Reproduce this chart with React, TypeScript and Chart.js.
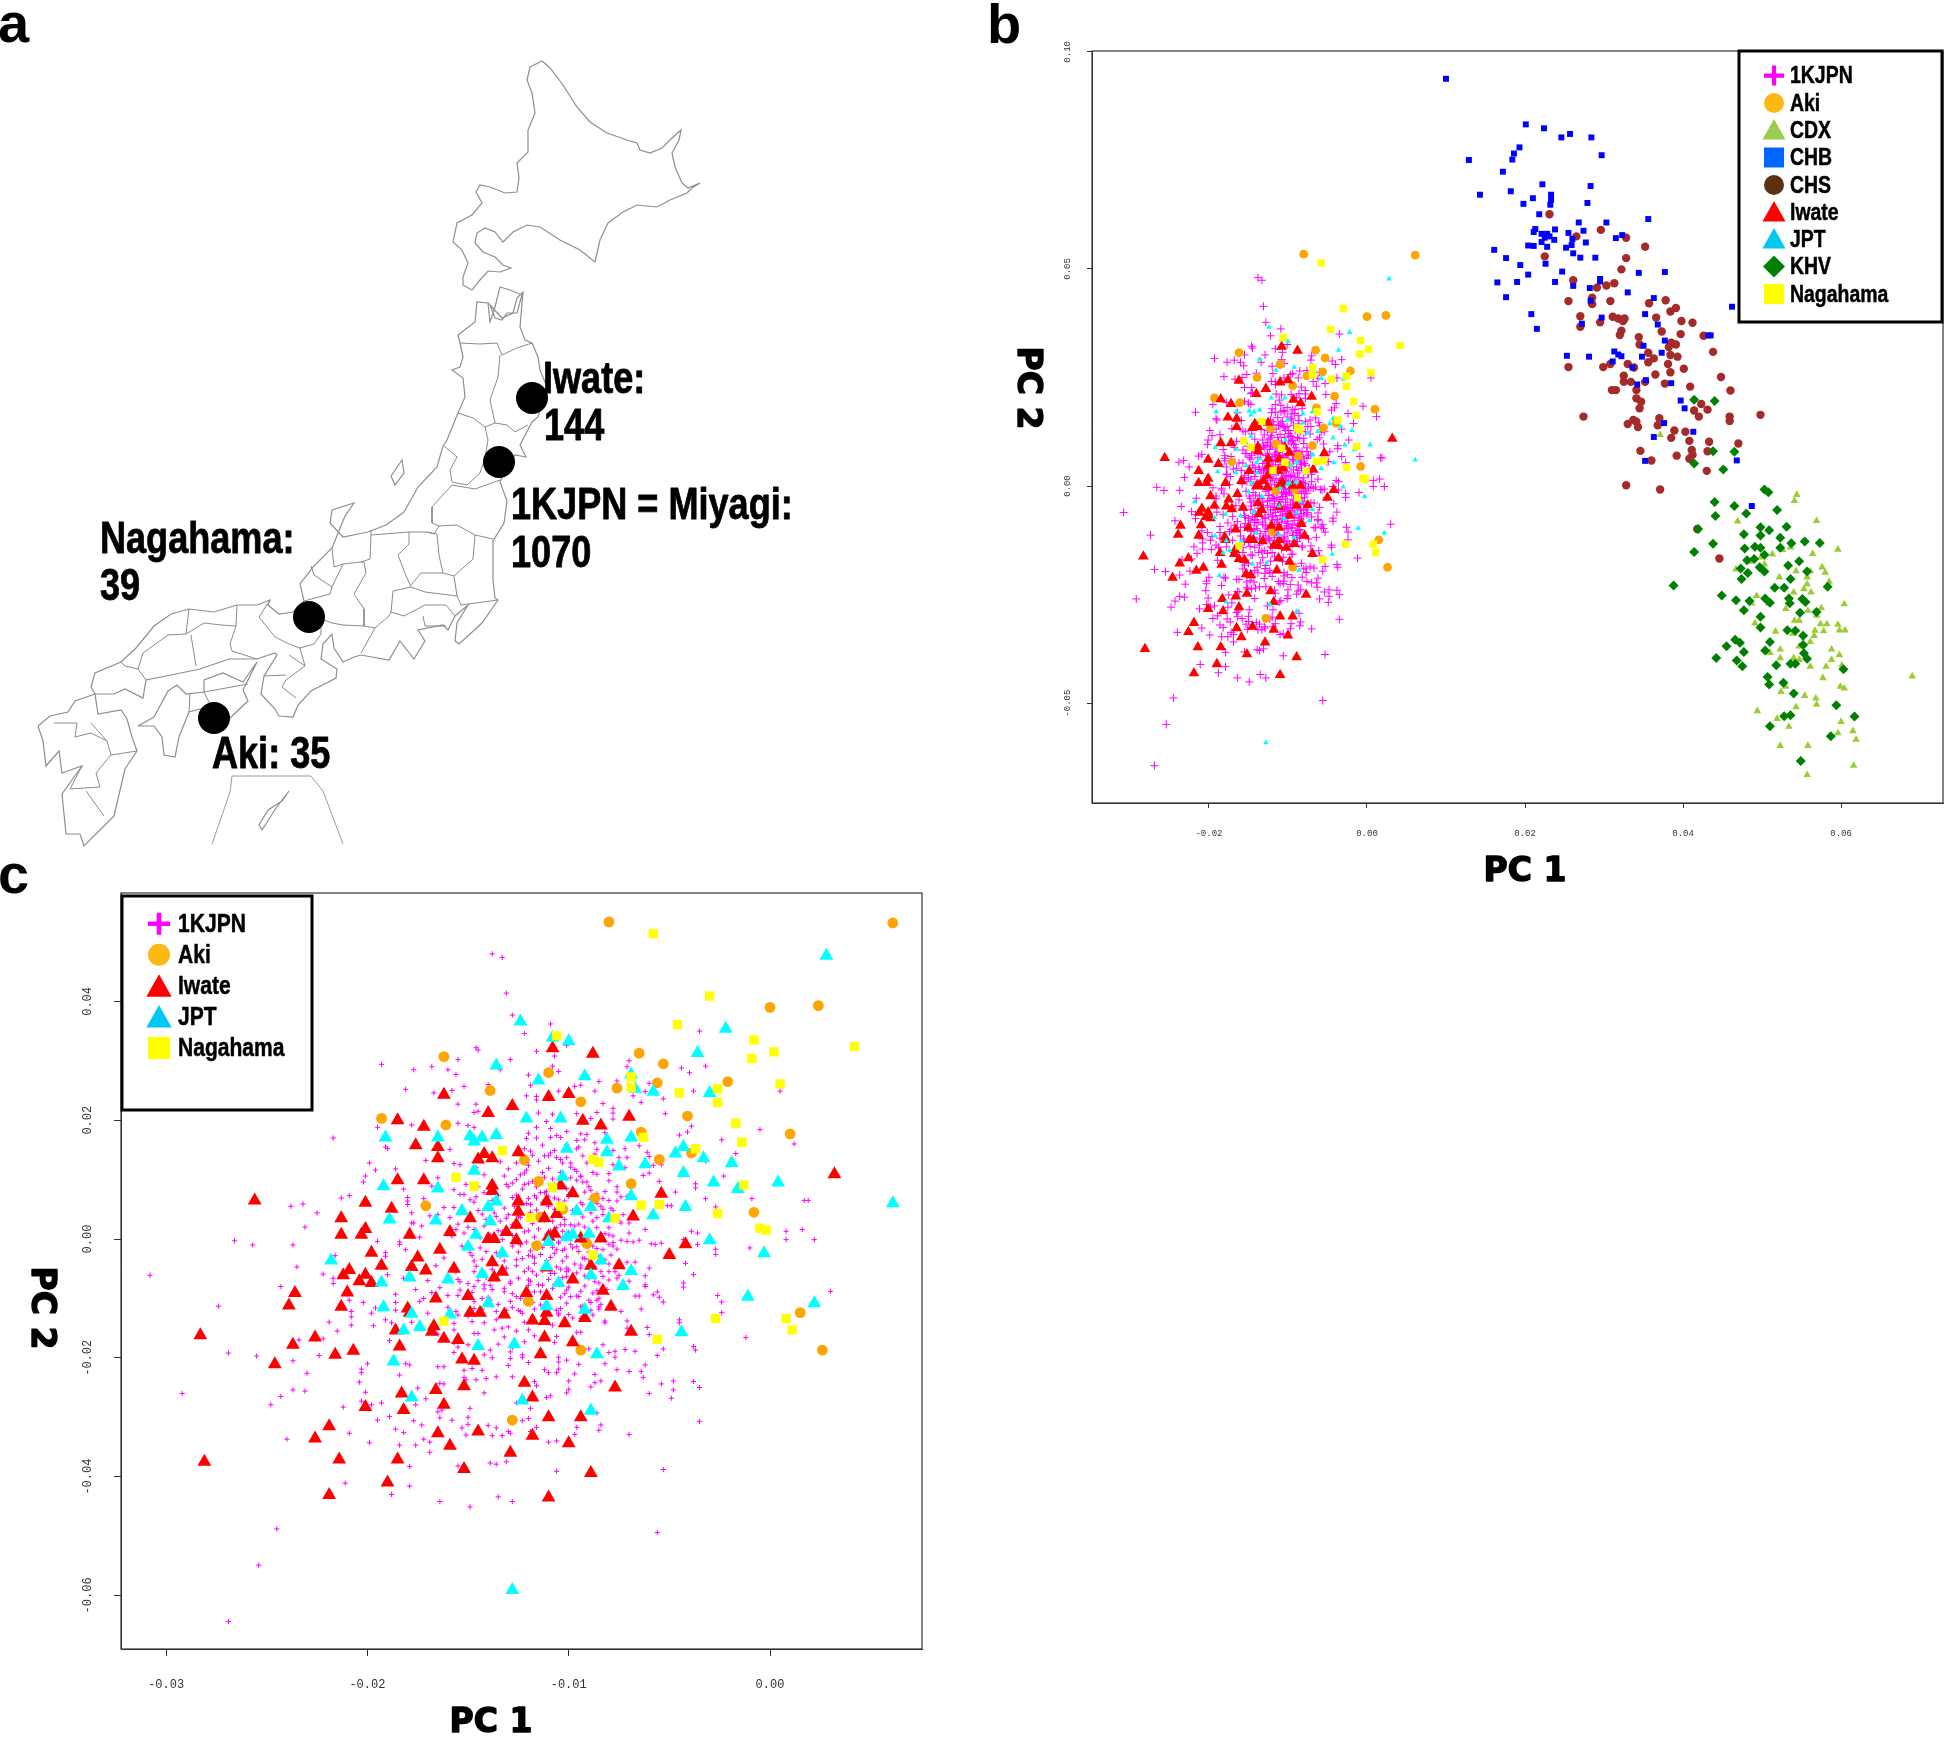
import React, { useEffect, useRef } from "react";
import { Chart, registerables } from "chart.js";
Chart.register(...registerables);

// ---- PCA values: flat x,y pairs, both in units of 0.0001 of PC 1 / PC 2 ----
const AKI = [-162,307,-139,250,-193,203,-161,192,-171,56,-80,534,61,532,0,390,24,393,-65,313,-53,295,-110,280,-76,254,-56,263,-21,265,-94,231,-41,207,-64,180,10,177,-39,145,-55,134,-122,133,-115,97,-69,93,-87,69,-103,50,-114,37,-8,45,-91,-8,-116,-11,-120,-105,15,-124,-94,-187,26,-187,-128,-305];
const IWATE = [-256,65,-213,35,-201,61,-188,51,-213,7,-201,17,-203,7,-179,7,-198,-23,-193,-45,-209,-52,-212,-61,-201,-60,-204,-71,-198,-74,-210,-90,-213,-114,-236,-91,-239,-112,-178,-47,-175,-31,-171,-53,-164,-18,-159,12,-157,-50,-149,35,-140,0,-137,0,-131,12,-125,63,-125,46,-126,24,-126,-2,-138,-39,-133,-55,-137,-65,-166,-100,-150,-96,-180,-117,-186,-154,-179,-124,-167,-147,-168,-156,-162,-168,-155,-170,-184,-181,-149,-124,-144,-124,-132,-127,-121,-91,-111,-96,-111,-124,-118,-137,-112,-138,-112,-166,-114,-194,-153,-203,-147,-205,-102,-142,-98,-174,-92,-133,-83,-87,-79,-114,-69,-156,-77,-250,-75,-44,-89,-45,-98,-68,-111,-48,-84,1,-94,1,-68,38,-50,-27,-42,-9,-54,76,32,109,-98,77,-104,90,-111,63,-106,42,-112,35,-107,9,-110,4,-138,90,-138,81,-172,99,-185,99,-165,136,-165,155,-176,158,-172,189,-185,200,-162,243,-140,212,-128,224,-145,134,-142,143,-138,136,-125,146,-110,239,-100,244,-93,199,-84,191,-70,206,-108,321,-88,312,-122,-242,-118,-267,-152,-248,-166,-254,-183,-260,-201,-283,-182,-288,-162,-279,-219,-315,-226,-336,-214,-371,-281,-375,-283,-162,-246,-211,-237,-178,-226,-166,-216,-195,-207,-188,-165,-327,-159,-348,-185,-371,-190,-410,-219,-431,-152,-387,-145,-324,-129,-360,-118,-331,-110,-300,-94,-300,-100,-344,-89,-394,-110,-435];
const JPT = [-124,366,-108,339,-100,333,-136,292,-115,267,28,477,-22,354,-36,313,-69,277,-67,253,-58,248,-92,274,-30,246,-121,203,-104,203,-191,171,-165,171,-149,173,-147,164,-143,171,-136,175,-101,152,-81,167,-81,146,-69,171,-43,155,-47,144,-33,136,-19,128,-43,111,-28,95,-16,84,4,95,-42,54,61,60,-30,-2,-3,-24,-75,122,-62,126,-103,105,-147,115,-192,89,-165,85,-189,33,-166,31,-153,47,-140,54,-139,30,-136,63,-146,7,-150,-13,-133,-24,-110,-5,-101,3,-98,7,-90,9,-96,47,-89,54,-69,72,-58,40,-80,35,-84,-36,-89,-61,-69,-54,-73,-79,-105,-74,-111,-46,-143,-59,-160,-68,-179,-65,-193,-73,-218,-36,-192,-115,-178,-126,-174,-148,-182,-154,-159,-127,-140,-108,-111,-113,-92,-119,-11,-97,22,-108,-44,-157,-127,-177,-145,-180,-86,-194,-187,-206,-178,-267,-123,-272,-89,-289,-128,-591];
const NAGAHAMA = [-58,514,-30,409,-46,361,-8,335,2,315,-9,304,42,324,-106,342,-69,273,-69,255,-45,246,-26,253,-26,230,5,261,-17,195,-14,163,-63,171,-37,152,-88,134,-85,129,-108,87,-13,91,-64,57,-55,58,-104,55,-119,36,-77,35,-26,43,-5,18,-2,15,-88,-27,-133,149,-156,104,-147,89,-162,-138,-27,-134,8,-134,11,-153,-56,-169];
const KJPN = [-138,480,-133,474,-131,414,-128,377,-146,322,-145,318,-155,302,-129,302,-193,294,-177,285,-168,290,-160,285,-156,277,-134,285,-152,257,-140,260,-181,252,-167,246,-158,250,-155,227,-146,227,-145,215,-147,213,-155,195,-150,191,-147,188,-178,192,-195,188,-217,170,-191,155,-190,152,-164,169,-171,132,-159,151,-157,127,-154,125,-199,128,-196,116,-186,118,-201,106,-202,96,-165,103,-182,84,-168,89,-157,83,-154,75,-151,92,-132,106,-131,92,-213,69,-209,73,-180,70,-180,64,-180,58,-172,68,-162,53,-157,53,-152,75,-149,66,-146,71,-232,59,-238,55,-225,44,-231,20,-266,-3,-257,-10,-237,-10,-178,44,-178,27,-169,39,-165,41,-159,36,-155,25,-156,16,-177,27,-173,22,-184,-5,-184,-9,-174,3,-195,-4,-181,-18,-191,-23,-191,-29,-153,-12,-149,-23,-144,-15,-235,-47,-216,-28,-162,-32,-157,-46,-147,-37,-166,-45,-171,-46,-136,-23,
-109,362,-122,346,-101,326,-116,316,-107,308,-70,300,-71,290,-108,291,-105,282,-120,276,-119,259,-44,288,-40,280,-32,291,-35,350,-94,259,-97,257,-85,265,-76,266,-60,262,-62,248,-87,249,-105,249,-38,249,5,249,-121,241,-116,240,-116,234,-68,241,-53,236,-64,230,-83,228,-78,220,-78,212,-78,202,-52,211,-86,213,-96,211,-108,210,-115,212,-111,198,-89,203,-39,190,-41,180,-45,175,-5,184,-24,167,12,160,-17,144,-116,188,-120,178,-116,170,-121,169,-109,186,-109,171,-106,174,-104,171,-101,181,-94,177,-91,176,-96,166,-95,155,-92,167,-87,162,-86,151,-82,179,-78,149,-72,152,-61,146,-60,139,-65,157,-112,140,-109,145,-106,137,-104,134,-99,128,-101,159,-97,117,-96,114,-94,105,-93,96,-91,96,-86,109,-80,110,-75,137,-71,137,-72,120,-78,125,-58,124,-54,125,-63,107,-60,111,-55,97,-32,131,-23,106,-47,79,-37,93,-37,86,-9,68,17,65,19,65,-32,68,-51,56,-49,56,-27,54,-114,78,-112,78,-107,69,-100,75,-120,94,-122,111,-116,69,-119,58,-89,82,-82,80,-76,79,-74,71,-71,72,-80,65,-76,64,-93,58,-89,44,-83,50,-78,48,-73,41,-70,27,-74,27,-70,10,-62,16,-59,-8,-57,-9,-54,-7,-71,-4,-68,-5,-65,-2,-39,13,-36,10,-43,-1,-36,-9,8,13,16,16,8,-1,22,-1,-10,-15,-27,-17,-27,-26,-51,-26,-42,-41,-104,24,-102,24,-99,24,-97,22,-103,13,-105,-7,-86,19,-80,7,-78,5,-80,-9,-78,-12,-98,-15,-103,-19,-106,-18,-93,-32,-85,-29,-71,-39,-67,-39,-60,-49,-82,-35,-94,-49,-101,-49,-104,-51,-117,-32,-118,-29,
-308,-61,-243,-80,-274,-113,-222,-59,-217,-75,-217,-66,-186,-93,-186,-107,-186,-120,-209,-103,-202,-107,-196,-116,-208,-122,-208,-131,-208,-145,-198,-125,-197,-146,-219,-140,-215,-155,-191,-136,-188,-141,-189,-171,-234,-170,-222,-168,-269,-192,-255,-197,-237,-205,-224,-196,-230,-226,-200,-210,-203,-219,-203,-225,-204,-241,-181,-210,-179,-212,-184,-229,-292,-260,-237,-254,-231,-256,-243,-265,-248,-279,-201,-258,-203,-273,-198,-279,-193,-276,-212,-283,-189,-299,-195,-305,-186,-320,-182,-326,-177,-306,-175,-251,-176,-279,-171,-269,-173,-313,-240,-337,-209,-327,-199,-343,-184,-347,-176,-347,-172,-337,-169,-342,-169,-359,-179,-383,-179,-416,-211,-411,-188,-430,-164,-442,-149,-451,-135,-434,-128,-442,-155,-382,-139,-377,-136,-379,-131,-375,-245,-488,-254,-549,-269,-644,-165,-215,-162,-215,-163,-288,-165,-291,-164,-301,-158,-305,-149,-285,-150,-300,-150,-312,-153,-318,-151,-330,-140,-314,-136,-318,-138,-331,-133,-331,-130,-324,-129,-327,-152,-233,-151,-237,-146,-237,-141,-235,-136,-232,-130,-213,-128,-232,-143,-221,-148,-218,-152,-221,-142,-259,-126,-276,-129,-190,-129,-201,-135,-177,-139,-187,-142,-195,-157,-191,-155,-182,-150,-178,-147,-159,-145,-159,-148,-139,-142,-141,-137,-153,-164,-243,-162,-244,-154,-72,-147,-80,-142,-77,-138,-85,-143,-100,-139,-103,-151,-97,-154,-86,-129,-75,-132,-89,-126,-97,-131,-120,-125,-120,-136,-136,-133,-150,-130,-148,-156,-122,-155,-128,-147,-117,-157,-142,-157,-153,
-38,-60,-43,-74,-43,-81,-62,-62,-62,-77,-62,-80,-70,-71,-67,-96,-65,-96,-58,-94,-56,-89,-55,-98,-53,-106,-26,-95,-24,-106,-24,-124,30,-88,-64,-118,-74,-122,-45,-136,-45,-141,-82,-138,-71,-138,-71,-150,-61,-149,-60,-161,-12,-166,-83,-178,-53,-185,-56,-196,-38,-181,-37,-187,-80,-191,-77,-189,-77,-199,-72,-186,-67,-189,-82,-210,-62,-212,-76,-220,-70,-223,-64,-223,-63,-233,-54,-244,-48,-239,-48,-254,-49,-268,-38,-240,-35,-250,-60,-260,-35,-307,-70,-329,-53,-388,-106,-391,-56,-494,-84,-313,-85,-322,-97,-329,-96,-317,-110,-342,-106,-340,-119,-324,-116,-317,-119,-285,-120,-302,-123,-306,-86,-293,-89,-249,-87,-242,-84,-239,-87,-228,-97,-227,-100,-239,-100,-253,-101,-259,-109,-264,-111,-267,-117,-240,-116,-247,-112,-220,-110,-225,-106,-225,-105,-219,-95,-211,-101,-204,-105,-207,-105,-199,-120,-208,-123,-195,-123,-199,-122,-173,-117,-163,-107,-174,-106,-164,-120,-153,-94,-157,-96,-157,-90,-185,-98,-133,-102,-142,-108,-145,-122,-140,-89,-107,-86,-103,-89,-120,-85,-100,-94,-114,-93,-113,-85,-114,-85,-118,-101,-108,-104,-117,-105,-128,-105,-125,-99,-97,-95,-97,-104,-98,-86,-87,-101,-86,-80,-69,-75,-61,-76,-66,-103,-65,-92,-62,-115,-77,-120,-69,-117,-89,-80,-55,-84,-55,-101,-55,-118,-55,-109,-58,-124,-122,-123,-125,-117,-118,-114,-111,
-136,38,-130,41,-125,38,-134,30,-128,24,-142,22,-152,10,-147,16,-133,-1,-128,-12,-141,-21,-134,-29,-146,-46,-126,-35,-131,-49,-138,-51,
-122,152,-118,141,-113,158,-107,149,-101,137,-96,152,-91,128,-87,143,-120,124,-115,131,-110,119,-104,112,-99,121,-94,106,-124,108,-118,97,-112,104,-107,92,-101,85,-96,99,-90,88,-86,76,-123,84,-117,73,-111,80,-105,66,-100,72,-94,61,-89,67,-84,55,-121,60,-116,49,-110,55,-104,42,-98,48,-93,37,-88,30,-83,41,-124,36,-118,26,-112,32,-106,19,-100,11,-95,25,-90,14,-85,3,-80,19,-122,12,-117,3,-111,8,-105,-5,-99,-9,-94,-2,-88,-12,-83,-18,-78,-6,-124,-10,-119,-20,-113,-14,-107,-24,-101,-30,-95,-21,-90,-34,-85,-40,-79,-27,-123,-33,-117,-41,-111,-36,-106,-47,-100,-52,-94,-44,-89,-57,-83,-63,-122,-55,-116,-61,-110,-68,-104,-74,-98,-66,-92,-79,-87,-72,-81,-85,-120,-78,-114,-89,-108,-83,-102,-92,-96,-96,-90,-103,-84,-110,-124,-100,-118,-107,-112,-113,-106,-120,-100,-127,-94,-134,-88,-128,-82,-141,-146,120,-142,108,-138,96,-134,130,-130,118,-126,100,-142,78,-138,65,-132,52,-128,70,-145,48,-141,33,-135,14,-128,6,-150,20,-158,5,-147,-55,-141,-65,-135,-60,-129,-72,-155,-68,-148,-90,-142,-84,-135,-110,-129,-105,-164,-82,-170,-70,-176,-85,-182,-66,-190,-60,-172,-100,-160,-115,-150,-130,-143,-118,-132,-165,-126,-155,-138,-200,-128,-183,-170,-125,-178,-140,-165,-160,-157,-175,-152,-200,-146,-208,
-119,148,-110,140,-103,128,-93,140,-84,126,-126,128,-121,116,-113,112,-108,101,-99,103,-88,112,-80,98,-128,94,-122,92,-116,88,-110,71,-102,64,-92,79,-83,68,-76,88,-126,74,-120,68,-113,62,-107,50,-96,45,-86,60,-79,52,-127,55,-119,45,-113,41,-108,30,-102,33,-92,20,-86,36,-75,30,-126,20,-120,14,-115,17,-109,14,-103,2,-97,6,-91,1,-82,9,-74,-2,-127,-1,-121,-5,-115,-7,-108,-14,-102,-17,-96,-13,-90,-22,-86,-16,-76,-17,-125,-22,-120,-28,-114,-26,-109,-31,-103,-37,-97,-42,-92,-33,-87,-46,-80,-42,-126,-45,-120,-49,-113,-53,-107,-58,-101,-63,-96,-57,-90,-66,-85,-74,-77,-55,-125,-66,-119,-71,-113,-78,-107,-76,-100,-81,-94,-88,-88,-91,-145,88,-139,84,-135,73,-130,88,-147,62,-143,42,-137,44,-131,35,-144,2,-139,7,-133,12,-148,-28,-143,-34,-137,-41,-132,-37,-150,-75,-145,-70,-139,-78,-132,-83,-128,-92,-155,-95,-147,-105,-140,-98,-136,-122,-128,-115,-160,-95,-168,-90,-174,-105,-156,-55];
const CHB = [100,938,201,833,224,824,246,803,257,811,284,803,193,780,186,766,184,752,297,762,129,751,172,724,222,695,283,691,143,671,182,679,210,663,233,671,233,659,232,648,198,650,279,652,218,626,356,615,268,607,303,607,213,592,211,585,238,591,274,588,255,583,221,581,228,581,225,572,221,562,231,575,237,567,260,569,259,555,277,561,323,578,315,571,204,554,211,553,228,551,252,549,261,536,270,526,289,526,161,544,176,525,194,509,226,512,204,487,247,494,165,469,190,470,238,470,295,477,295,471,344,491,377,493,261,461,282,456,330,446,176,435,283,427,363,433,462,413,352,396,208,396,297,388,272,374,368,372,215,362,377,335,432,347,435,347,350,323,373,307,313,310,318,303,322,299,253,300,281,298,348,298,311,287,336,273,353,244,385,237,342,234,397,197,402,179,376,145,413,125,363,113,468,59,352,58,487,-46];
const CHS = [231,626,296,590,265,575,328,572,352,551,225,529,328,525,322,499,261,474,313,467,303,462,291,457,255,426,308,426,285,434,285,419,378,428,357,421,391,410,384,402,270,391,311,390,318,386,326,386,324,380,366,388,398,380,412,376,295,377,270,367,322,358,373,356,320,348,397,350,426,346,344,343,345,326,385,330,391,326,382,320,438,309,356,307,384,302,363,294,356,285,393,298,381,281,330,281,255,274,299,274,308,281,338,273,401,270,384,262,365,257,325,254,325,240,334,240,448,251,352,240,377,236,409,229,310,221,315,221,341,221,460,220,341,202,347,194,423,189,414,174,431,176,345,179,420,160,459,160,459,150,498,164,274,160,370,156,337,152,330,143,341,148,343,136,368,140,389,128,403,125,385,111,408,104,433,102,470,98,411,83,412,72,431,80,346,81,392,70,408,63,360,59,430,35,328,2,371,-8,418,-99,446,-167];
const KHV = [414,199,440,196,438,80,465,79,414,52,451,38,503,-8,508,-14,440,-37,465,-46,441,-69,480,-63,519,-55,419,-99,498,-95,509,-102,531,-94,477,-111,498,-114,523,-119,438,-133,414,-152,478,-144,491,-140,498,-142,537,-132,554,-128,573,-131,523,-142,503,-158,481,-171,490,-168,547,-173,533,-183,473,-190,497,-187,503,-197,482,-200,474,-214,557,-197,536,-214,583,-232,516,-234,528,-234,388,-229,449,-252,467,-263,484,-265,504,-259,510,-269,534,-259,535,-270,551,-260,555,-267,477,-286,498,-301,548,-292,569,-290,498,-326,532,-332,542,-333,552,-345,466,-354,472,-361,510,-359,455,-369,477,-382,504,-379,552,-366,553,-385,557,-398,442,-396,468,-402,475,-415,518,-413,536,-409,542,-409,603,-422,507,-440,509,-457,527,-453,540,-478,594,-505,528,-530,536,-528,617,-531,510,-553,587,-576,549,-633];
const CDX = [544,-20,541,-34,469,-81,569,-80,596,-146,513,-157,526,-147,536,-141,564,-156,499,-164,484,-174,503,-180,467,-192,576,-187,580,-199,543,-196,561,-196,522,-210,557,-210,585,-220,557,-226,553,-237,540,-245,562,-245,493,-253,604,-272,487,-270,508,-270,530,-283,558,-287,575,-281,569,-298,491,-316,541,-310,547,-310,574,-318,582,-318,596,-319,598,-332,605,-332,578,-334,517,-335,539,-340,567,-333,566,-345,561,-359,547,-369,552,-363,523,-376,510,-384,588,-376,598,-389,523,-396,588,-400,540,-396,547,-400,561,-416,581,-416,601,-413,690,-438,577,-442,599,-462,604,-466,530,-462,524,-474,554,-483,568,-489,569,-503,543,-509,494,-518,519,-536,600,-543,534,-554,615,-564,596,-569,619,-584,523,-598,558,-598,616,-644,557,-665,371,118];

const TICKS_B_X = [-0.02, 0, 0.02, 0.04, 0.06];
const TICKS_B_Y = [-0.05, 0, 0.05, 0.1];
const TICKS_C_X = [-0.03, -0.02, -0.01, 0];
const TICKS_C_Y = [-0.06, -0.04, -0.02, 0, 0.02, 0.04];

// ---- Map outlines: flat x,y pairs in the map's own units ----
const HOKKAIDO = [530,67,542,61,550,68,563,85,577,107,590,122,607,133,627,140,637,143,640,150,650,153,662,148,672,138,681,130,679,140,672,153,675,167,682,183,688,188,700,183,692,188,687,193,670,200,657,207,637,205,623,212,608,223,600,240,595,262,580,250,560,240,540,227,527,225,513,232,503,242,495,232,485,228,477,233,475,243,483,252,495,257,503,265,511,268,500,272,488,271,480,280,472,290,463,285,463,277,468,263,462,250,453,242,457,223,472,215,482,203,476,192,480,185,490,187,505,193,517,192,519,178,517,163,528,152,528,130,535,113,532,93,527,80,530,67];
const HONSHU = [460,343,458,335,475,322,477,302,488,303,490,322,495,307,500,287,510,290,522,295,517,313,507,313,502,320,495,318,490,305,502,318,513,313,517,298,523,292,520,327,525,340,532,343,538,357,540,370,547,387,538,417,532,422,520,445,526,457,515,455,505,470,500,482,507,501,504,523,493,541,493,580,495,598,498,600,482,623,459,644,455,641,457,623,468,605,455,616,448,630,443,625,418,630,425,641,414,659,400,641,389,660,361,655,354,657,343,662,334,648,332,634,323,644,321,659,337,669,336,678,311,691,298,705,293,717,279,716,275,709,261,694,264,676,277,655,275,653,257,659,229,659,200,669,171,675,146,680,143,698,125,689,114,694,95,694,91,687,95,673,121,662,136,648,154,626,171,614,189,609,214,612,237,605,257,605,270,600,268,605,279,614,293,612,304,601,300,584,314,566,332,548,345,516,354,503,332,510,330,523,343,537,368,532,386,525,404,512,418,487,437,467,443,446,447,440,458,413,465,397,463,378,452,370,460,367,463,357,460,343];
const SHIKOKU = [138,726,154,717,168,691,177,685,186,694,204,692,204,680,223,673,243,682,257,662,243,690,248,701,229,719,214,712,200,709,189,712,179,737,175,757,164,755,162,737,154,726,138,726];
const KYUSHU = [38,726,50,716,68,712,75,701,95,694,98,714,121,710,127,719,132,737,137,751,125,769,114,816,105,825,84,846,80,834,66,834,62,794,82,766,62,773,59,751,46,766,43,741,38,726];
const SADO = [391,476,402,460,404,473,395,485,391,476];
const AMAMI = [262,830,259,825,268,810,282,801,289,791,276,808,262,830];
const INSET_FRAME = [212,844,230,792,232,776,311,776,323,791,343,844];
const BORDERS = [
  [460,343,480,344,497,343,502,355,517,348,532,343],
  [500,355,498,377,490,400,495,423,507,425,515,432,528,425],
  [458,413,473,418,485,427,495,423],
  [485,427,488,440,485,458,480,473,467,485,452,482,450,470,457,457,443,445],
  [452,485,475,489,500,480],
  [452,485,432,507,432,523,439,526,457,525,475,535,493,539],
  [439,526,434,534,427,532,409,532,371,535,371,530],
  [371,535,370,559,361,562,343,564,334,567,332,548],
  [311,566,314,575,332,587,330,594,304,601],
  [332,587,343,564],
  [361,562,364,562,366,573,354,594,364,609,364,626,343,625,332,623,321,619],
  [364,626,375,628,361,653],
  [375,628,389,616,391,612,393,591,411,587,404,571,398,555,409,544,409,532],
  [427,532,437,534,439,555,443,573,421,573,411,585],
  [475,535,473,559,454,576,443,573],
  [411,587,425,592,457,596,454,576],
  [457,596,461,605,498,600],
  [391,612,404,616,425,605,446,605,455,616],
  [423,616,425,626,446,626],
  [270,600,259,617,275,637,289,644,300,648,314,644,321,634,321,619],
  [237,605,236,626,230,644,232,651,257,659],
  [189,609,186,634,204,623,221,625,236,626],
  [191,635,196,666],
  [186,634,168,635,143,653,138,669,146,680],
  [138,669,125,666,121,662],
  [289,655,305,666,286,680,282,687,296,698],
  [264,676,286,675],
  [300,648,305,666],
  [204,692,248,684],
  [204,692,209,702,229,719],
  [189,712,190,693],
  [91,723,107,741,111,755,137,751],
  [75,737,91,733,107,741],
  [54,723,77,723,75,737],
  [111,755,96,773,100,787,70,789],
  [86,791,104,816],
  [82,766,70,789],
];
const SITES = [532,398,499,462,309,617,214,718];

const PC_FONT = 'bold 33px "DejaVu Sans"';
const NARROW = '"Liberation Sans"';
const LETTER_FONT = 'bold 56px "Liberation Sans"';

const pts = (flat: number[], k = 1) => {
  const out: { x: number; y: number }[] = [];
  for (let i = 0; i < flat.length; i += 2) out.push({ x: flat[i] * k, y: flat[i + 1] * k });
  return out;
};

type Txt = { t: string; x: number; y: number; font: string; rot?: number; align?: CanvasTextAlign; base?: CanvasTextBaseline; sx?: number; stroke?: number };
type LegItem = { label: string; shape: string; color: string };
type Leg = { x: number; y: number; w: number; h: number; mx: number; tx: number; ys: number[]; s: number; font: string; items: LegItem[] };

function drawMarker(ctx: CanvasRenderingContext2D, shape: string, x: number, y: number, s: number, color: string) {
  ctx.fillStyle = color;
  ctx.strokeStyle = color;
  ctx.beginPath();
  if (shape === "cross") {
    ctx.lineWidth = s * 0.42;
    ctx.moveTo(x - s, y); ctx.lineTo(x + s, y); ctx.moveTo(x, y - s); ctx.lineTo(x, y + s);
    ctx.stroke();
    return;
  }
  if (shape === "circle") ctx.arc(x, y, s, 0, Math.PI * 2);
  if (shape === "rect") ctx.rect(x - s, y - s, 2 * s, 2 * s);
  if (shape === "tri") { ctx.moveTo(x, y - s * 1.1); ctx.lineTo(x + s * 1.15, y + s * 0.95); ctx.lineTo(x - s * 1.15, y + s * 0.95); ctx.closePath(); }
  if (shape === "dia") { ctx.moveTo(x, y - s * 1.1); ctx.lineTo(x + s * 1.1, y); ctx.lineTo(x, y + s * 1.1); ctx.lineTo(x - s * 1.1, y); ctx.closePath(); }
  ctx.fill();
}

function putText(ctx: CanvasRenderingContext2D, t: Txt) {
  ctx.save();
  ctx.translate(t.x, t.y);
  if (t.rot) ctx.rotate(t.rot);
  if (t.sx) ctx.scale(t.sx, 1);
  ctx.font = t.font;
  ctx.textAlign = t.align || "left";
  ctx.textBaseline = t.base || "alphabetic";
  ctx.fillStyle = "#000";
  ctx.fillText(t.t, 0, 0);
  if (t.stroke) {
    ctx.strokeStyle = "#000";
    ctx.lineWidth = t.stroke;
    ctx.lineJoin = "round";
    ctx.strokeText(t.t, 0, 0);
  }
  ctx.restore();
}

function overlay(texts: Txt[], leg?: Leg, frame = false) {
  return {
    id: "overlay",
    afterDraw(chart: any) {
      const ctx = chart.ctx as CanvasRenderingContext2D;
      ctx.save();
      if (frame) {
        const a = chart.chartArea;
        ctx.strokeStyle = "#333";
        ctx.lineWidth = 1.2;
        ctx.strokeRect(a.left, a.top, a.right - a.left, a.bottom - a.top);
      }
      if (leg) {
        ctx.fillStyle = "#fff";
        ctx.fillRect(leg.x, leg.y, leg.w, leg.h);
        ctx.strokeStyle = "#000";
        ctx.lineWidth = 3;
        ctx.strokeRect(leg.x, leg.y, leg.w, leg.h);
        leg.items.forEach((it, i) => {
          drawMarker(ctx, it.shape, leg.mx, leg.ys[i], leg.s, it.color);
          putText(ctx, { t: it.label, x: leg.tx, y: leg.ys[i] + 1, font: leg.font, base: "middle", sx: 0.81, stroke: 0.5 });
        });
      }
      texts.forEach((t) => putText(ctx, t));
      ctx.restore();
    },
  };
}

function ds(label: string, flat: number[], style: string, r: number, color: string, order: number, bw = 0) {
  return {
    label,
    data: pts(flat, 1e-4),
    pointStyle: style,
    pointRadius: r,
    pointBackgroundColor: color,
    pointBorderColor: color,
    pointBorderWidth: bw,
    order,
    showLine: false,
  };
}

function pcaConfig(o: any) {
  const tick = (v: number) => Number(v).toFixed(2);
  return {
    type: "scatter",
    data: { datasets: o.datasets },
    plugins: [overlay(o.texts, o.legend, true)],
    options: {
      animation: false,
      responsive: false,
      devicePixelRatio: 1,
      layout: { padding: o.padding, autoPadding: false },
      plugins: { legend: { display: false }, tooltip: { enabled: false } },
      scales: {
        x: {
          type: "linear", min: o.xr[0], max: o.xr[1],
          afterBuildTicks: (s: any) => { s.ticks = o.xt.map((value: number) => ({ value })); },
          afterFit: (s: any) => { s.height = o.xh; },
          grid: { drawOnChartArea: false, tickLength: o.tl, tickColor: "#333", tickWidth: 1 },
          border: { color: "#333" },
          ticks: { autoSkip: false, maxRotation: 0, padding: o.xp, color: "#333", font: { family: '"Liberation Mono"', size: o.fs }, callback: tick },
        },
        y: {
          type: "linear", min: o.yr[0], max: o.yr[1],
          afterBuildTicks: (s: any) => { s.ticks = o.yt.map((value: number) => ({ value })); },
          afterFit: (s: any) => { s.width = o.yw; },
          grid: { drawOnChartArea: false, tickLength: o.tl, tickColor: "#333", tickWidth: 1 },
          border: { color: "#333" },
          ticks: { autoSkip: false, minRotation: 90, maxRotation: 90, crossAlign: "center", padding: o.yp, color: "#333", font: { family: '"Liberation Mono"', size: o.fs }, callback: tick },
        },
      },
    },
  };
}

function mapConfig() {
  const line = (flat: number[], w = 1.2, color = "#8e8e8e") => ({
    data: pts(flat), showLine: true, borderColor: color, borderWidth: w, pointRadius: 0, tension: 0, fill: false, order: 2,
  });
  const big = `bold 44px ${NARROW}`;
  const lab = (t: string, x: number, y: number): Txt => ({ t, x, y, font: big, sx: 0.82, stroke: 0.8 });
  return {
    type: "scatter",
    data: {
      datasets: [
        line(HOKKAIDO), line(HONSHU), line(SHIKOKU), line(KYUSHU), line(SADO), line(AMAMI), line(INSET_FRAME, 1, "#9a9a9a"),
        ...BORDERS.map((b) => line(b, 1, "#8a8a8a")),
        { data: pts(SITES), pointRadius: 16, pointBackgroundColor: "#000", pointBorderWidth: 0, showLine: false, order: 1 },
      ],
    },
    plugins: [overlay([
      { t: "a", x: -2, y: 42, font: LETTER_FONT },
      lab("Iwate:", 543, 393),
      lab("144", 544, 440),
      lab("1KJPN = Miyagi:", 511, 519),
      lab("1070", 511, 567),
      lab("Nagahama:", 100, 553),
      lab("39", 100, 600),
      lab("Aki: 35", 212, 768),
    ])],
    options: {
      animation: false,
      responsive: false,
      devicePixelRatio: 1,
      layout: { padding: 0, autoPadding: false },
      plugins: { legend: { display: false }, tooltip: { enabled: false } },
      scales: {
        x: { type: "linear", min: 0, max: 830, display: false },
        y: { type: "linear", min: 0, max: 850, reverse: true, display: false },
      },
    },
  };
}

const bConfig = () => pcaConfig({
  datasets: [
    ds("1KJPN", KJPN, "cross", 4, "#FF00FF", 5, 1),
    ds("Aki", AKI, "circle", 4.4, "#FFA500", 4),
    ds("CDX", CDX, "triangle", 4.4, "#9ACD32", 8),
    ds("CHB", CHB, "rect", 4.2, "#0000FF", 6),
    ds("CHS", CHS, "circle", 4.2, "#A52A2A", 9),
    ds("Iwate", IWATE, "triangle", 6.2, "#FF0000", 3),
    ds("JPT", JPT, "triangle", 3.2, "#00FFFF", 2),
    ds("KHV", KHV, "rectRot", 5, "#008000", 7),
    ds("Nagahama", NAGAHAMA, "rect", 5.2, "#FFFF00", 1),
  ],
  xr: [-0.0348, 0.0729], yr: [-0.073, 0.1002], xt: TICKS_B_X, yt: TICKS_B_Y,
  padding: { left: 0, right: 1, top: 51, bottom: 0 }, yw: 112, xh: 87, tl: 5, xp: 20, yp: 6, fs: 9,
  texts: [
    { t: "b", x: 7, y: 43, font: LETTER_FONT },
    { t: "PC 1", x: 545, y: 872, font: PC_FONT, align: "center", base: "middle", stroke: 1.4 },
    { t: "PC 2", x: 47, y: 388, font: PC_FONT, align: "center", base: "middle", rot: Math.PI / 2, stroke: 1.4 },
  ],
  legend: {
    x: 759, y: 51, w: 203, h: 271, mx: 794, tx: 810, s: 10, font: `bold 24px ${NARROW}`,
    ys: [75.6, 103, 130, 157.5, 185, 212, 239, 266.6, 294],
    items: [
      { label: "1KJPN", shape: "cross", color: "#FF00FF" },
      { label: "Aki", shape: "circle", color: "#FDB813" },
      { label: "CDX", shape: "tri", color: "#9ACD4F" },
      { label: "CHB", shape: "rect", color: "#0066FF" },
      { label: "CHS", shape: "circle", color: "#5C3010" },
      { label: "Iwate", shape: "tri", color: "#FF0000" },
      { label: "JPT", shape: "tri", color: "#00C8F0" },
      { label: "KHV", shape: "dia", color: "#008000" },
      { label: "Nagahama", shape: "rect", color: "#FFFF00" },
    ],
  },
});

const cConfig = () => pcaConfig({
  datasets: [
    ds("1KJPN", KJPN, "cross", 2.6, "#FF00FF", 5, 1),
    ds("Aki", AKI, "circle", 5.4, "#FFA500", 4),
    ds("Iwate", IWATE, "triangle", 8, "#FF0000", 3),
    ds("JPT", JPT, "triangle", 8, "#00FFFF", 2),
    ds("Nagahama", NAGAHAMA, "rect", 6.6, "#FFFF00", 1),
  ],
  xr: [-0.03224, 0.00755], yr: [-0.06902, 0.05825], xt: TICKS_C_X, yt: TICKS_C_Y,
  padding: { left: 0, right: 18, top: 43, bottom: 0 }, yw: 121, xh: 88, tl: 7, xp: 22, yp: 8, fs: 12,
  texts: [
    { t: "c", x: -2, y: 43, font: LETTER_FONT },
    { t: "PC 1", x: 491, y: 873, font: PC_FONT, align: "center", base: "middle", stroke: 1.4 },
    { t: "PC 2", x: 41, y: 458, font: PC_FONT, align: "center", base: "middle", rot: Math.PI / 2, stroke: 1.4 },
  ],
  legend: {
    x: 122, y: 46, w: 190, h: 214, mx: 159, tx: 178, s: 11, font: `bold 26px ${NARROW}`,
    ys: [73.7, 104.7, 136.3, 167, 198],
    items: [
      { label: "1KJPN", shape: "cross", color: "#FF00FF" },
      { label: "Aki", shape: "circle", color: "#FDB813" },
      { label: "Iwate", shape: "tri", color: "#FF0000" },
      { label: "JPT", shape: "tri", color: "#00C8F0" },
      { label: "Nagahama", shape: "rect", color: "#FFFF00" },
    ],
  },
});

function Panel({ left, top, width, height, make }: any) {
  const ref = useRef<HTMLCanvasElement>(null);
  useEffect(() => {
    const chart = new Chart(ref.current as any, make());
    return () => chart.destroy();
  }, []);
  return <canvas ref={ref} width={width} height={height} style={{ position: "absolute", left, top, width, height, display: "block" }} />;
}

export default function App() {
  return (
    <div style={{ position: "absolute", left: 0, top: 0, width: 1944, height: 1737, overflow: "hidden", background: "#fff" }}>
      <Panel left={0} top={0} width={830} height={850} make={mapConfig} />
      <Panel left={980} top={0} width={964} height={890} make={bConfig} />
      <Panel left={0} top={850} width={940} height={887} make={cConfig} />
    </div>
  );
}
